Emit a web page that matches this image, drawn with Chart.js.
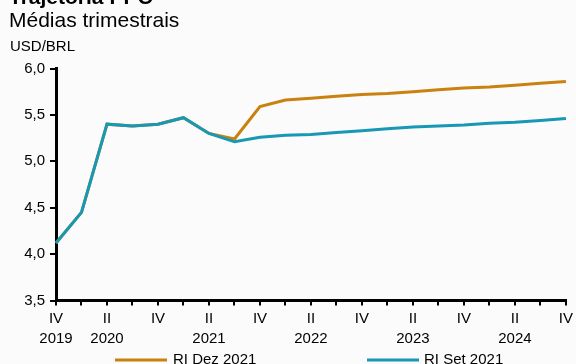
<!DOCTYPE html>
<html lang="pt-BR">
<head>
<meta charset="utf-8">
<title>Trajetória PPC</title>
<script src="https://cdn.jsdelivr.net/npm/chart.js@4/dist/chart.umd.min.js"></script>
<style>
  html, body { margin: 0; padding: 0; overflow: hidden; background: #fbfbfb; }
  #wrap { position: relative; width: 576px; height: 364px; }
  canvas { display: block; }
</style>
</head>
<body>
<div id="wrap"><canvas id="chart" width="576" height="364"></canvas></div>
<script>
// Quarterly periods, 2019 Q4 through 2024 Q4
const periods = ['2019 T4','2020 T1','2020 T2','2020 T3','2020 T4','2021 T1','2021 T2','2021 T3',
  '2021 T4','2022 T1','2022 T2','2022 T3','2022 T4','2023 T1','2023 T2','2023 T3','2023 T4',
  '2024 T1','2024 T2','2024 T3','2024 T4'];

// Axis tick labels (quarter on the first line, year on the second)
const tickQuarter = ['IV','','II','','IV','','II','','IV','','II','','IV','','II','','IV','','II','','IV'];
const tickYear    = ['2019','','2020','','','','2021','','','','2022','','','','2023','','','','2024','',''];

// USD/BRL, quarterly averages
const riDez2021 = [4.12, 4.45, 5.40, 5.38, 5.40, 5.47, 5.30, 5.24, 5.59, 5.66, 5.68, 5.70, 5.72,
  5.73, 5.75, 5.77, 5.79, 5.80, 5.82, 5.84, 5.86];
const riSet2021 = [4.12, 4.45, 5.40, 5.38, 5.40, 5.47, 5.30, 5.21, 5.26, 5.28, 5.29, 5.31, 5.33,
  5.35, 5.37, 5.38, 5.39, 5.41, 5.42, 5.44, 5.46];

const seriesNames = ['RI Dez 2021', 'RI Set 2021'];
const yTicks = [3.5, 4.0, 4.5, 5.0, 5.5, 6.0];

const ORANGE = '#C98110';
const TEAL = '#1798B5';
const FONT = '"Liberation Sans", Arial, sans-serif';

// Title block and legend drawn straight onto the canvas
const textPlugin = {
  id: 'texts',
  afterDraw(chart) {
    const ctx = chart.ctx;
    ctx.save();
    ctx.fillStyle = '#000';
    ctx.textBaseline = 'alphabetic';
    ctx.textAlign = 'left';
    ctx.font = 'bold 21px ' + FONT;
    ctx.fillText('Trajetória PPC', 9, 4);
    ctx.font = '21px ' + FONT;
    ctx.fillText('Médias trimestrais', 9, 27);
    ctx.font = '15px ' + FONT;
    ctx.fillText('USD/BRL', 10, 51);

    // legend
    const items = [
      { x0: 115, x1: 167, tx: 173, ds: chart.data.datasets[0] },
      { x0: 367, x1: 419, tx: 424, ds: chart.data.datasets[1] }
    ];
    const ly = 360;
    items.forEach(it => {
      ctx.strokeStyle = it.ds.borderColor;
      ctx.lineWidth = 3;
      ctx.beginPath();
      ctx.moveTo(it.x0, ly);
      ctx.lineTo(it.x1, ly);
      ctx.stroke();
      ctx.fillStyle = '#000';
      ctx.font = '15px ' + FONT;
      ctx.textBaseline = 'alphabetic';
      ctx.fillText(it.ds.label, it.tx, 363.5);
    });
    ctx.restore();
  }
};

new Chart(document.getElementById('chart'), {
  type: 'line',
  data: {
    labels: periods,
    datasets: [
      { label: seriesNames[0], data: riDez2021, borderColor: ORANGE, backgroundColor: ORANGE,
        borderWidth: 3, pointRadius: 0, tension: 0, order: 2 },
      { label: seriesNames[1], data: riSet2021, borderColor: TEAL, backgroundColor: TEAL,
        borderWidth: 3, pointRadius: 0, tension: 0, order: 1 }
    ]
  },
  options: {
    responsive: false,
    animation: false,
    layout: { padding: { top: 68.5, right: 8, bottom: 0, left: 0 } },
    plugins: {
      legend: { display: false },
      tooltip: { enabled: false },
      title: { display: false }
    },
    scales: {
      x: {
        type: 'category',
        offset: false,
        border: { display: true, color: '#000', width: 3 },
        grid: { display: true, drawOnChartArea: false, drawTicks: true, tickLength: 5, color: '#000', lineWidth: 2 },
        ticks: {
          autoSkip: false,
          maxRotation: 0,
          minRotation: 0,
          padding: 3,
          color: '#000',
          font: { family: FONT, size: 15, lineHeight: 1.33 },
          callback: (v, i) => tickYear[i] ? [tickQuarter[i], tickYear[i]] : tickQuarter[i]
        },
        afterFit: s => { s.height = 63.5; }
      },
      y: {
        min: yTicks[0],
        max: yTicks[yTicks.length - 1],
        border: { display: true, color: '#000', width: 3 },
        grid: { display: true, drawOnChartArea: false, drawTicks: true, tickLength: 6, color: '#000', lineWidth: 2 },
        afterBuildTicks: s => { s.ticks = yTicks.map(v => ({ value: v })); },
        ticks: {
          padding: 5,
          color: '#000',
          font: { family: FONT, size: 15 },
          callback: v => Number(v).toFixed(1).replace('.', ',')
        },
        afterFit: s => { s.width = 56; }
      }
    }
  },
  plugins: [textPlugin]
});
</script>
</body>
</html>
